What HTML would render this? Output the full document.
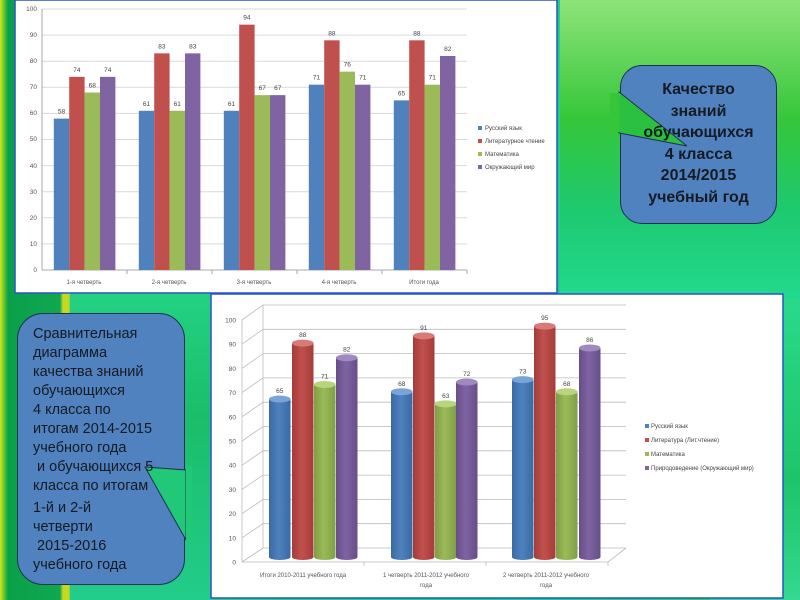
<!DOCTYPE html>
<html><head><meta charset="utf-8"><style>
html,body{margin:0;padding:0;width:800px;height:600px;overflow:hidden}
body{background:linear-gradient(90deg,#d6e619 0,#7fd02a 3px,#0aa04a 8px,#0fa850 60px,#c8d820 63px,#c8d820 68px,#2ad47c 72px,#22cf86 560px,#3fcf4a 800px);}
svg{position:absolute;left:0;top:0}
text{font-family:"Liberation Sans",sans-serif}
.c{position:absolute;background:#5082c0;border:1px solid #1e3050;box-sizing:border-box}
.t{position:absolute;color:#161a22;font-family:"Liberation Sans",sans-serif;box-sizing:border-box}
</style></head><body>
<div style="position:absolute;left:560px;top:0;width:240px;height:300px;background:linear-gradient(180deg,#8ee37a 0,#35c63a 40%,#1ec970 70%,#22d98e 100%)"></div>
<div style="position:absolute;left:710px;top:300px;width:90px;height:300px;background:linear-gradient(180deg,#2ad98a,#1ec46a 60%,#34d890)"></div>
<div style="position:absolute;left:70px;top:293px;width:140px;height:307px;background:linear-gradient(180deg,#22d282,#1bbd6a 40%,#22cc8a)"></div>

<svg width="800" height="600" xmlns="http://www.w3.org/2000/svg">
<rect x="15" y="0" width="542" height="293" fill="#fff" stroke="#2a52c8" stroke-width="1.5"/>
<g stroke="#d9d9d9" stroke-width="1">
<line x1="42" y1="9" x2="467" y2="9"/><line x1="42" y1="35.1" x2="467" y2="35.1"/><line x1="42" y1="61.2" x2="467" y2="61.2"/><line x1="42" y1="87.3" x2="467" y2="87.3"/><line x1="42" y1="113.4" x2="467" y2="113.4"/><line x1="42" y1="139.5" x2="467" y2="139.5"/><line x1="42" y1="165.6" x2="467" y2="165.6"/><line x1="42" y1="191.7" x2="467" y2="191.7"/><line x1="42" y1="217.8" x2="467" y2="217.8"/><line x1="42" y1="243.9" x2="467" y2="243.9"/>
</g>
<g stroke="#aaa"><line x1="42" y1="9" x2="42" y2="270"/><line x1="42" y1="270" x2="467" y2="270"/>
<line x1="127" y1="270" x2="127" y2="274"/><line x1="212" y1="270" x2="212" y2="274"/><line x1="297" y1="270" x2="297" y2="274"/><line x1="382" y1="270" x2="382" y2="274"/><line x1="467" y1="270" x2="467" y2="274"/></g>
<g font-size="6.5" fill="#555" text-anchor="end">
<text x="37" y="11">100</text><text x="37" y="37">90</text><text x="37" y="63">80</text><text x="37" y="89">70</text><text x="37" y="115">60</text><text x="37" y="141">50</text><text x="37" y="168">40</text><text x="37" y="194">30</text><text x="37" y="220">20</text><text x="37" y="246">10</text><text x="37" y="272">0</text>
</g>
<g font-size="6" fill="#555" text-anchor="middle">
<text x="84" y="284">1-я четверть</text><text x="169" y="284">2-я четверть</text><text x="254" y="284">3-я четверть</text><text x="339" y="284">4-я четверть</text><text x="424" y="284">Итоги года</text>
</g>
<g id="bars"></g>
<g font-size="6" fill="#444">
<rect x="478" y="126" width="4" height="4" fill="#4f81bd"/><text x="485" y="130">Русский язык</text>
<rect x="478" y="139" width="4" height="4" fill="#c0504d"/><text x="485" y="143">Литературное чтение</text>
<rect x="478" y="152" width="4" height="4" fill="#9bbb59"/><text x="485" y="156">Математика</text>
<rect x="478" y="165" width="4" height="4" fill="#8064a2"/><text x="485" y="169">Окружающий мир</text>
</g>

<rect x="211" y="294" width="572" height="304" fill="#fff" stroke="#2a52c8" stroke-width="1.5"/>
<g id="grid3d" stroke="#bbb" stroke-width="0.8" fill="none"></g>
<g font-size="6.5" fill="#555" text-anchor="end" id="ylab3"></g>
<g id="cyl"></g>
<g font-size="6" fill="#555" text-anchor="middle">
<text x="303" y="577">Итоги 2010-2011 учебного года</text>
<text x="426" y="577">1 четверть 2011-2012 учебного</text><text x="426" y="587">года</text>
<text x="546" y="577">2 четверть 2011-2012 учебного</text><text x="546" y="587">года</text>
</g>
<g font-size="6" fill="#444">
<rect x="645" y="424" width="4" height="4" fill="#4f81bd"/><text x="651" y="428">Русский язык</text>
<rect x="645" y="438" width="4" height="4" fill="#c0504d"/><text x="651" y="442">Литература (Лит.чтение)</text>
<rect x="645" y="452" width="4" height="4" fill="#9bbb59"/><text x="651" y="456">Математика</text>
<rect x="645" y="466" width="4" height="4" fill="#8064a2"/><text x="651" y="470">Природоведение (Окружающий мир)</text>
</g>
</svg>

<div class="c" style="left:620px;top:65px;width:157px;height:159px;border-radius:22px"></div>
<div class="c" style="left:17px;top:313px;width:168px;height:272px;border-radius:26px"></div>
<svg width="800" height="600"><polygon points="619,92 619,133 687,146" fill="#2cc040" stroke="#1e3050" stroke-width="1"/><rect x="610" y="93" width="9.5" height="39" fill="#35c63a"/>
<polygon points="145,467 186,470 186,540" fill="#20c878" stroke="#1e3050" stroke-width="1"/><rect x="186" y="466" width="6" height="78" fill="#20c878"/></svg>
<div class="t" style="left:620px;top:65px;width:157px;text-align:center;font-size:16px;font-weight:bold;line-height:21.6px;padding-top:14px">Качество<br>знаний<br>обучающихся<br>4 класса<br>2014/2015<br>учебный год</div>
<div class="t" style="left:17px;top:313px;width:168px;font-size:14.5px;line-height:19px;padding:12px 0 0 16px">Сравнительная<br>диаграмма<br>качества знаний<br>обучающихся<br>4 класса по<br>итогам 2014-2015<br>учебного года<br>&nbsp;и обучающихся 5<br>класса по итогам<div style="height:3px"></div>1-й и 2-й<br>четверти<br>&nbsp;2015-2016<br>учебного года</div>

<script>
(function(){
var C=["#4f81bd","#c0504d","#9bbb59","#8064a2"],D=["#3a6aa6","#a53c3a","#7f9e45","#654e88"],L=["#7aa3d8","#d87a77","#b8d47e","#a089c0"];
var dt=[[58,74,68,74],[61,83,61,83],[61,94,67,67],[71,88,76,71],[65,88,71,82]];
var s="";
for(var g=0;g<5;g++){for(var b=0;b<4;b++){var v=dt[g][b],x=53.8+g*85+b*15.4,y=270-v*2.61;
s+='<rect x="'+x+'" y="'+y+'" width="15.4" height="'+(270-y)+'" fill="'+C[b]+'"/>';
s+='<text x="'+(x+7.7)+'" y="'+(y-5)+'" font-size="6.5" fill="#444" text-anchor="middle">'+v+'</text>';}}
document.getElementById("bars").innerHTML=s;
var gr="",yl="";
for(var v=0;v<=100;v+=10){var yf=562-v*2.42,yb=548-v*2.43;
gr+='<polyline points="242,'+yf+' 263,'+yb+' 626,'+yb+'"/>';
yl+='<text x="236" y="'+(yf+2.5)+'">'+v+'</text>';}
gr+='<line x1="242" y1="320" x2="242" y2="562"/><line x1="263" y1="305" x2="263" y2="548"/><polyline points="242,562 608,562 626,548"/>';
gr+='<line x1="364" y1="562" x2="364" y2="566"/><line x1="486" y1="562" x2="486" y2="566"/><line x1="608" y1="562" x2="608" y2="566"/>';
document.getElementById("grid3d").innerHTML=gr;document.getElementById("ylab3").innerHTML=yl;
var bot=[[65,88,71,82],[68,91,63,72],[73,95,68,86]],bx=[[269,292,314,336],[391,413,435,456],[512,534,556,579]],c="";
for(var g=0;g<3;g++)for(var b=0;b<4;b++){var v=bot[g][b],x=bx[g][b],w=21.5,yt=557-v*2.43,cx=x+w/2;
c+='<defs><linearGradient id="g'+g+b+'" x1="0" x2="1"><stop offset="0" stop-color="'+D[b]+'"/><stop offset="0.45" stop-color="'+C[b]+'"/><stop offset="1" stop-color="'+D[b]+'"/></linearGradient></defs>';
c+='<path d="M'+x+' '+yt+' L'+x+' 557 A'+(w/2)+' 3 0 0 0 '+(x+w)+' 557 L'+(x+w)+' '+yt+' Z" fill="url(#g'+g+b+')"/>';
c+='<ellipse cx="'+cx+'" cy="'+yt+'" rx="'+(w/2)+'" ry="3.5" fill="'+L[b]+'"/>';
c+='<text x="'+cx+'" y="'+(yt-6)+'" font-size="6.5" fill="#444" text-anchor="middle">'+v+'</text>';}
document.getElementById("cyl").innerHTML=c;
})();
</script>
</body></html>
